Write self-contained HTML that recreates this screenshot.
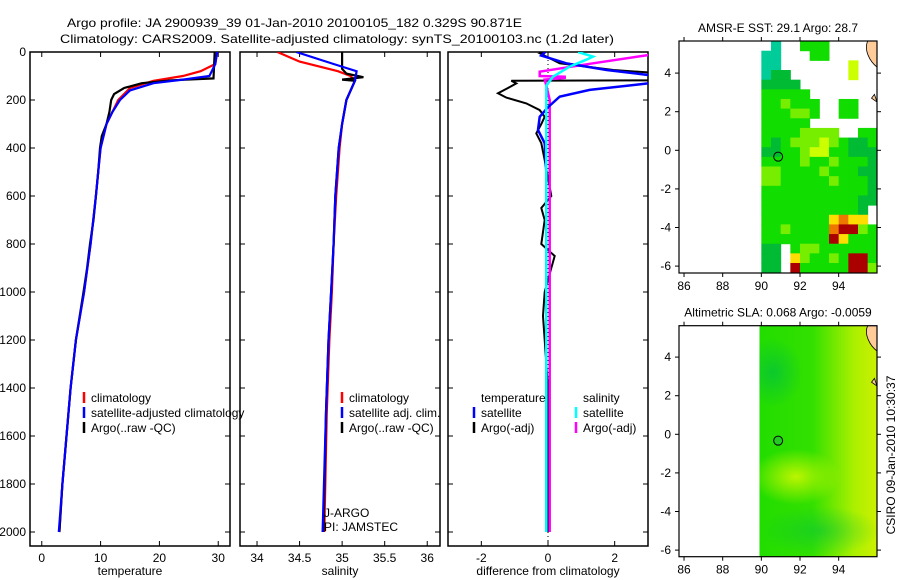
<!DOCTYPE html>
<html><head><meta charset="utf-8"><style>
html,body{margin:0;padding:0;background:#fff;}
svg{display:block;font-family:"Liberation Sans",sans-serif;font-size:12px;}
</style></head><body>
<svg id="fig" width="900" height="580" viewBox="0 0 900 580" xmlns="http://www.w3.org/2000/svg">
<text x="67" y="27" textLength="455" lengthAdjust="spacingAndGlyphs">Argo profile: JA 2900939_39 01-Jan-2010 20100105_182 0.329S 90.871E</text>
<text x="60" y="43" textLength="554" lengthAdjust="spacingAndGlyphs">Climatology: CARS2009. Satellite-adjusted climatology: synTS_20100103.nc (1.2d later)</text>
<g id="plots"></g>
<text transform="translate(895,455) rotate(-90)" text-anchor="middle">CSIRO 09-Jan-2010 10:30:37</text>
</svg>
<script>
// ---- data ----
const tClimDepth=[0,50,80,100,120,150,200,250,300,400,500,600,800,1000,1200,1400,1600,1800,2000];
const tClimVal=[29.8,29.5,27,24,19,15,13,12,11,10,9.6,9.2,8.3,7.2,5.8,4.9,4.2,3.5,3.0];
const tSatDepth=[0,50,100,115,130,160,200,250,300,400,500,600,800,1000,1200,1400,1600,1800,2000];
const tSatVal=[29.8,29.5,28.5,24,19,15,13.3,12,11,10,9.6,9.2,8.3,7.2,5.8,4.9,4.2,3.5,2.9];
const tArgoDepth=[0,110,118,130,150,175,200,250,300,350,400,500,600,700,800,900,1000,1200,1400,1600,1800,2000];
const tArgoVal=[29.4,29.2,22,17,14,12.3,11.8,11.5,11,10.2,9.9,9.6,9.2,8.8,8.2,7.7,7.1,5.8,4.9,4.2,3.5,3.0];
const sClimDepth=[0,40,80,100,120,200,300,400,600,800,1000,1200,1500,2000];
const sClimVal=[34.24,34.5,34.95,35.1,35.15,35.05,35.0,34.97,34.93,34.9,34.88,34.85,34.82,34.79];
const sSatDepth=[0,50,80,120,200,300,400,600,800,1000,1200,1500,2000];
const sSatVal=[34.46,34.9,35.17,35.15,35.05,35.0,34.96,34.92,34.9,34.87,34.84,34.81,34.77];
const sArgoDepth=[0,70,90,105,115,120,200,300,400,600,800,1000,1200,1500,2000];
const sArgoVal=[35.0,35.0,35.05,35.25,35.0,35.15,35.05,35.0,34.96,34.92,34.9,34.87,34.84,34.81,34.78];
const dTArgoDepth=[0,6,47,75,90,118,120,131,150,172,190,214,242,270,300,339,380,450,600,650,700,800,850,900,1000,1100,1200,1400,1600,2000];
const dTArgoVal=[-0.1,-0.24,0.35,1.96,3.5,3.5,-1.1,-0.95,-1.2,-1.5,-1.25,-0.65,-0.25,-0.1,-0.2,-0.35,-0.2,-0.1,0.1,-0.2,-0.1,-0.2,0.2,0.1,-0.1,-0.15,-0.1,0,0,0];
const dTSatDepth=[0,15,47,75,96,110,131,158,186,230,270,325,380,500,800,1200,1600,2000];
const dTSatVal=[-0.08,-0.2,0.55,1.76,3.0,3.5,3.0,1.25,0.35,0.0,-0.25,-0.3,-0.1,-0.05,-0.05,-0.05,-0.05,-0.05];
const dSSatDepth=[0,19,32,61,103,140,200,500,1000,1500,2000];
const dSSatVal=[0.9,1.35,1.15,0.65,0.15,-0.05,-0.05,-0.05,-0.05,-0.05,-0.05];
const dSArgoDepth=[0,13,47,82,100,103,108,115,140,200,500,1000,1500,2000];
const dSArgoVal=[3.2,3.0,1.35,-0.25,-0.25,0.5,0.5,-0.1,-0.05,0.05,0.05,0.05,0.05,0.05];
const depthTicks=[0,200,400,600,800,1000,1200,1400,1600,1800,2000];
const tempTicks=[0,10,20,30];
const salTicks=[34,34.5,35,35.5,36];
const diffTicks=[-2,0,2];
const lonTicks=[86,88,90,92,94];
const latTicks=[4,2,0,-2,-4,-6];
const sstGrid=["wtwwgggwwwww","ttwwwggwwwww","ttwwwwwwwyww","tGGwwwwwwyww","GGGGwwwwwwww","gggggwwwwwww","gglgggwwggww","gggllgwwggww","gggggwwwwwww","ggggllllwwgg","gGglllylgGGg","GGgglyyggGGG","gggglgglgggG","llgggglgggGG","llggggglgggG","gggggggggggG","ggggggggggGG","ggggggggggGw","gggggggYoYYw","gglggggorrlg","gggggggrYggg","GGwgllgggggg","GGwYlgglgrrg","GGwrgggggrrl"];
const sstColors={t:"#00cc99",g:"#11dd00",G:"#00bb33",l:"#77ee00",y:"#ccff00",Y:"#ffdd00",o:"#ee7700",r:"#aa0000"};

const NS="http://www.w3.org/2000/svg";
const root=document.getElementById('plots');
function mk(tag,attrs,parent){const e=document.createElementNS(NS,tag);for(const k in attrs)e.setAttribute(k,attrs[k]);(parent||root).appendChild(e);return e;}
const Y0=52,KY=0.24;
const yD=d=>Y0+d*KY;
const panels=[
 {name:'temperature',x0:30,x1:230,lo:-2,hi:32,ticks:tempTicks,label:'temperature'},
 {name:'salinity',x0:240,x1:440,lo:33.8,hi:36.15,ticks:salTicks,label:'salinity'},
 {name:'difference',x0:448,x1:648,lo:-3,hi:3,ticks:diffTicks,label:'difference from climatology'}];
const BOT=546;
panels.forEach((p,i)=>{
 p.x=v=>p.x0+(v-p.lo)/(p.hi-p.lo)*(p.x1-p.x0);
 const g=mk('g',{});
 
 
 const fr=mk('rect',{x:p.x0,y:Y0,width:p.x1-p.x0,height:BOT-Y0,fill:'none',stroke:'#000','stroke-width':1.5},g);
 
 
 depthTicks.forEach(d=>{
  mk('line',{x1:p.x0,x2:p.x0+5,y1:yD(d),y2:yD(d),stroke:'#000'},g);
  mk('line',{x1:p.x1,x2:p.x1-5,y1:yD(d),y2:yD(d),stroke:'#000'},g);
  if(i==0){const t=mk('text',{x:p.x0-4,y:yD(d)+4,'text-anchor':'end'},g);t.textContent=d;
   
   }
 });
 p.ticks.forEach(v=>{
  mk('line',{x1:p.x(v),x2:p.x(v),y1:BOT,y2:BOT-5,stroke:'#000'},g);
  mk('line',{x1:p.x(v),x2:p.x(v),y1:Y0,y2:Y0+5,stroke:'#000'},g);
  const t=mk('text',{x:p.x(v),y:BOT+16,'text-anchor':'middle'},g);t.textContent=v;
  
  
 });
 const xl=mk('text',{x:(p.x0+p.x1)/2,y:575,'text-anchor':'middle'},g);xl.textContent=p.label;
 
 
 p.g=g;
});
function clipFor(p,id){const c=mk('clipPath',{id:id});mk('rect',{x:p.x0,y:Y0,width:p.x1-p.x0,height:BOT-Y0},c);}
panels.forEach((p,i)=>clipFor(p,'clip'+i));
function line(pi,ds,vs,col,w,name){
 const p=panels[pi];
 const d=ds.map((dd,k)=>(k?'L':'M')+p.x(vs[k]).toFixed(1)+','+yD(dd).toFixed(1)).join('');
 const e=mk('path',{d:d,fill:'none',stroke:col,'stroke-width':w,'clip-path':'url(#clip'+pi+')'},p.g);
 
 
}
line(0,tClimDepth,tClimVal,'#ff0000',2.2,'temp-climatology-line');
line(0,tArgoDepth,tArgoVal,'#000',2.2,'temp-argo-line');
line(0,tSatDepth,tSatVal,'#0000ff',2.2,'temp-satellite-line');
line(1,sClimDepth,sClimVal,'#ff0000',2.2,'sal-climatology-line');
line(1,sArgoDepth,sArgoVal,'#000',2.2,'sal-argo-line');
line(1,sSatDepth,sSatVal,'#0000ff',2.2,'sal-satellite-line');
{const p=panels[2];const z=mk('line',{x1:p.x(0),x2:p.x(0),y1:Y0,y2:BOT,stroke:'#000','stroke-dasharray':'1,3'},p.g);
 }
line(2,dTArgoDepth,dTArgoVal,'#000',2,'diff-temp-argo-line');
line(2,dSArgoDepth,dSArgoVal,'#ff00ff',2.5,'diff-sal-argo-line');
line(2,dTSatDepth,dTSatVal,'#0000ff',2.5,'diff-temp-satellite-line');
line(2,dSSatDepth,dSSatVal,'#00ffff',2.5,'diff-sal-satellite-line');
// legends
function leg(x,y,col,txt,name){
 if(col){const m=mk('line',{x1:x,x2:x,y1:y-10,y2:y+1,stroke:col,'stroke-width':2.5});
  }
 const t=mk('text',{x:x+7,y:y});t.textContent=txt;
 
}
leg(84,402,'#ff0000','climatology','legend-climatology');
leg(84,417,'#0000ff','satellite-adjusted climatology','legend-satellite');
leg(84,432,'#000','Argo(..raw -QC)','legend-argo');
leg(342,402,'#ff0000','climatology','legend2-climatology');
leg(342,417,'#0000ff','satellite adj. clim.','legend2-satellite');
leg(342,432,'#000','Argo(..raw -QC)','legend2-argo');
leg(474,402,null,'temperature','legend3-temperature-header');
leg(474,417,'#0000ff','satellite','legend3-temp-satellite');
leg(474,432,'#000','Argo(-adj)','legend3-temp-argo');
leg(576,402,null,'salinity','legend3-salinity-header');
leg(576,417,'#00ffff','satellite','legend3-sal-satellite');
leg(576,432,'#ff00ff','Argo(-adj)','legend3-sal-argo');
{const a=mk('text',{x:324,y:517});a.textContent='J-ARGO';
 const b=mk('text',{x:324,y:531});b.textContent='PI: JAMSTEC';}
// maps
function map(top,bot,lat0y,title,name,fillFn){
 const L=679,R=877,kx=19.33;
 const lx=lon=>L+(lon-85.74)*kx, ly=lat=>lat0y-lat*19.3;
 const g=mk('g',{});
 const cid='c'+name;const c=mk('clipPath',{id:cid});mk('rect',{x:L,y:top,width:R-L,height:bot-top},c);
 const inner=mk('g',{'clip-path':'url(#'+cid+')'},g);
 fillFn(inner,lx,ly,top,bot,R);
 mk('path',{d:`M${lx(95.5)},${top}C${lx(95.3)},${ly(5.2)} ${lx(95.6)},${ly(4.6)} ${lx(96)},${ly(4.3)}L${R},${top}Z`,fill:'#ffcc99',stroke:'#000','stroke-width':0.8},inner);
 mk('path',{d:`M${lx(95.85)},${ly(2.9)}L${lx(95.7)},${ly(2.7)}L${R},${ly(2.5)}Z`,fill:'#ffcc99',stroke:'#000','stroke-width':0.8},inner);
 const ci=mk('circle',{cx:lx(90.87),cy:ly(-0.33),r:4.5,fill:'none',stroke:'#000'},g);
 
 mk('rect',{x:L,y:top,width:R-L,height:bot-top,fill:'none',stroke:'#000','stroke-width':1.2},g);
 lonTicks.forEach(v=>{mk('line',{x1:lx(v),x2:lx(v),y1:bot,y2:bot+4,stroke:'#000'},g);mk('line',{x1:lx(v),x2:lx(v),y1:top,y2:top-4,stroke:'#000'},g);
  const t=mk('text',{x:lx(v),y:bot+17,'text-anchor':'middle'},g);t.textContent=v;
  });
 latTicks.forEach(v=>{mk('line',{x1:L,x2:L-4,y1:ly(v),y2:ly(v),stroke:'#000'},g);mk('line',{x1:R,x2:R+4,y1:ly(v),y2:ly(v),stroke:'#000'},g);
  const t=mk('text',{x:L-8,y:ly(v)+4,'text-anchor':'end'},g);t.textContent=v;
  });
 const tt=mk('text',{x:(L+R)/2,y:top-9,'text-anchor':'middle'},g);tt.textContent=title;
 
}
map(41,273,150.3,'AMSR-E SST: 29.1  Argo: 28.7','sst-map',(g,lx,ly)=>{
 sstGrid.forEach((row,r)=>{[...row].forEach((ch,cI)=>{
  if(ch==='w')return;
  const lon=90+cI*0.5, lat=5.66-r*0.5;
  const e=mk('rect',{x:lx(lon),y:ly(lat),width:0.5*19.33+0.5,height:0.5*19.3+0.5,fill:sstColors[ch]},g);
  
  
 });});
});
map(325.7,556.7,434.3,'Altimetric SLA: 0.068  Argo: -0.0059','sla-map',(g,lx,ly,top,bot,R)=>{
 const d=mk('defs',{},g);
 const c2=mk('clipPath',{id:'slaClip'},d);
 mk('rect',{x:lx(89.9),y:top,width:R-lx(89.9),height:bot-top},c2);
 const gg=mk('g',{'clip-path':'url(#slaClip)'},g);
 const lg=mk('linearGradient',{id:'slaG',x1:0,x2:1,y1:0,y2:0},d);
 mk('stop',{offset:'0','stop-color':'#22dd00'},lg);mk('stop',{offset:'0.45','stop-color':'#33e000'},lg);
 mk('stop',{offset:'0.8','stop-color':'#aaf000'},lg);mk('stop',{offset:'1','stop-color':'#ccf000'},lg);
 const b=mk('rect',{x:lx(89.9),y:ly(5.7),width:lx(96)-lx(89.9),height:ly(-6.5)-ly(5.7),fill:'url(#slaG)'},gg);
 
 const rg=mk('radialGradient',{id:'slaY'},d);mk('stop',{offset:'0','stop-color':'#bbf500'},rg);mk('stop',{offset:'1','stop-color':'#bbf500','stop-opacity':0},rg);
 mk('ellipse',{cx:lx(91.8),cy:ly(-2.2),rx:45,ry:28,fill:'url(#slaY)'},gg);
 const rg2=mk('radialGradient',{id:'slaD'},d);mk('stop',{offset:'0','stop-color':'#00c040'},rg2);mk('stop',{offset:'1','stop-color':'#00c040','stop-opacity':0},rg2);
 mk('ellipse',{cx:lx(90.6),cy:ly(3.2),rx:30,ry:35,fill:'url(#slaD)','opacity':0.7},gg);
 mk('ellipse',{cx:lx(93),cy:ly(-5),rx:60,ry:25,fill:'url(#slaD)','opacity':0.5},gg);
 mk('circle',{cx:lx(90.87),cy:ly(-0.33),r:4.5,fill:'#22cc22'},gg);
});
</script>
</body></html>
